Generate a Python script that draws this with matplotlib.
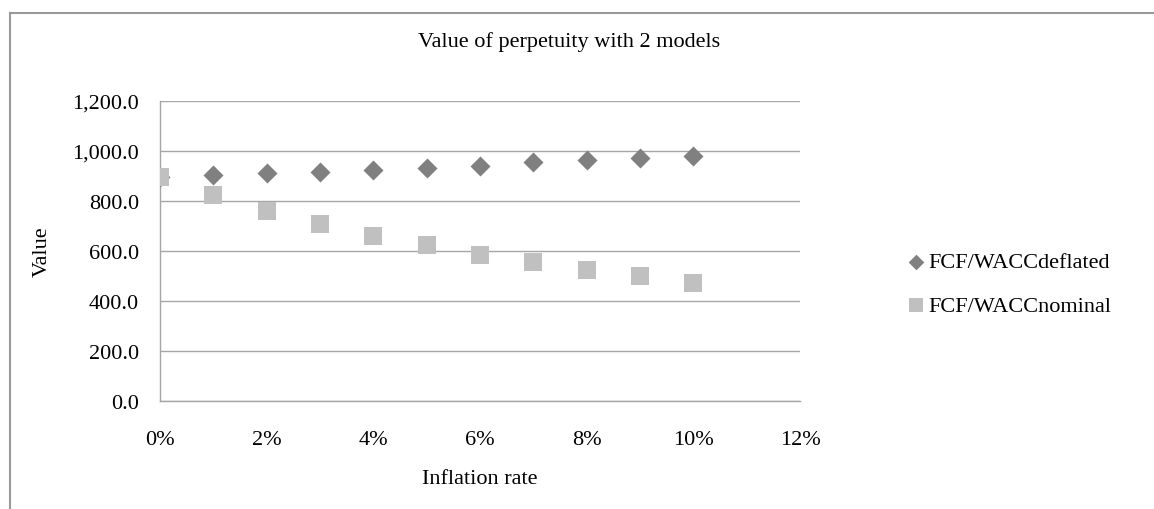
import matplotlib
matplotlib.use("Agg")
import matplotlib.pyplot as plt
from matplotlib.lines import Line2D
from matplotlib.ticker import FuncFormatter

inflation = [0, 1, 2, 3, 4, 5, 6, 7, 8, 9, 10]
deflated = [896, 904, 911, 918, 925, 933, 941, 956, 964, 972, 979]
nominal = [898, 823, 761, 708, 661, 623, 584, 555, 524, 501, 471]
x_ticks = [0, 2, 4, 6, 8, 10, 12]
y_ticks = [0, 200, 400, 600, 800, 1000, 1200]

plt.rcParams['font.family'] = ['Liberation Serif', 'DejaVu Serif']
W, H = 1154, 510
FS = 16
fig = plt.figure(figsize=(W / 100, H / 100), dpi=100)
ax = fig.add_axes([160 / W, 1 - 402 / H, 640 / W, 300 / H])

gridc = '#a6a6a6'
ax.scatter(inflation, deflated, marker='D', s=10.2 ** 2, color='#808080',
           linewidths=0, zorder=3, label='FCF/WACCdeflated')
ax.scatter(inflation, nominal, marker='s', s=13.5 ** 2, color='#c0c0c0',
           linewidths=0, zorder=4, label='FCF/WACCnominal')

ax.set_xlim(0, 12)
ax.set_ylim(0, 1200)
ax.set_xticks(x_ticks)
ax.set_yticks(y_ticks)
ax.xaxis.set_major_formatter(FuncFormatter(lambda v, p: f"{int(v)}%"))
ax.yaxis.set_major_formatter(FuncFormatter(lambda v, p: f"{v:,.1f}"))
ax.tick_params(axis='both', length=0, labelsize=FS, colors='black')
ax.tick_params(axis='y', pad=15)
ax.tick_params(axis='x', pad=21)
ax.grid(axis='y', color=gridc, linewidth=1.0)
ax.set_axisbelow(True)
for s in ['top', 'right']:
    ax.spines[s].set_visible(False)
for s in ['left', 'bottom']:
    ax.spines[s].set_color(gridc)
    ax.spines[s].set_linewidth(1.0)

ax.set_ylabel('Value', fontsize=FS)
ax.yaxis.set_label_coords(-0.169, 0.5)
ax.set_xlabel('Inflation rate', fontsize=FS)
ax.xaxis.set_label_coords(0.5, -0.228)

fig.text(569 / W, 1 - 42 / H, 'Value of perpetuity with 2 models',
         ha='center', va='center', fontsize=FS)

leg = fig.legend(loc='center left', bbox_to_anchor=(885 / W, 1 - 285 / H),
                 frameon=False, fontsize=FS, markerscale=0.78,
                 handletextpad=0.05, labelspacing=1.05, handlelength=1.0)

frame_c = '#999999'
fig.add_artist(Line2D([10 / W, 1.0], [1 - 14 / H, 1 - 14 / H],
                      transform=fig.transFigure, color=frame_c, linewidth=1.5))
fig.add_artist(Line2D([10 / W, 10 / W], [1 - 14 / H, 0],
                      transform=fig.transFigure, color=frame_c, linewidth=1.5))

fig.savefig('out.png', dpi=100)
